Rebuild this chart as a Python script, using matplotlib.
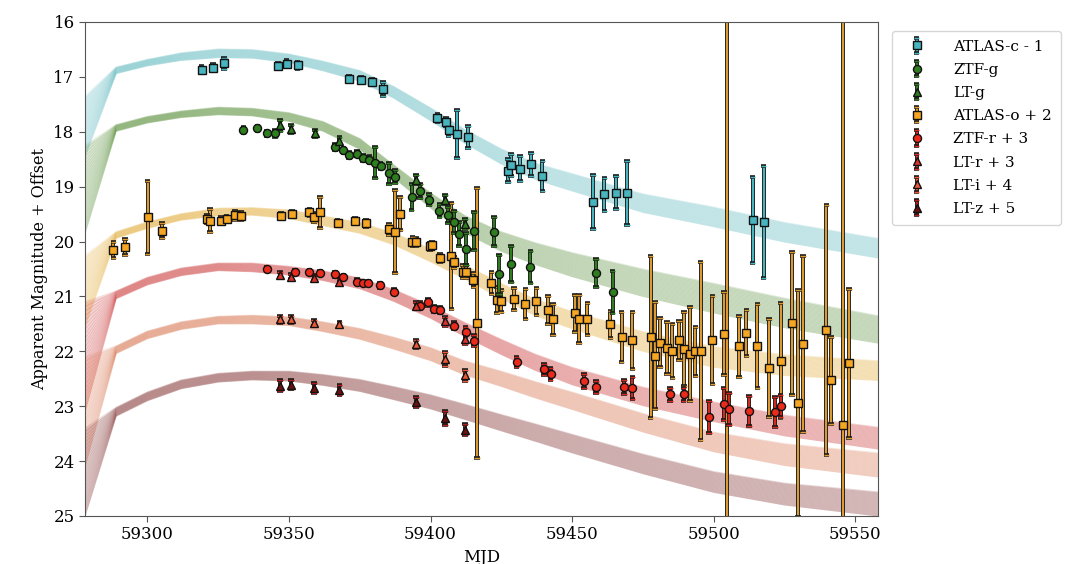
import numpy as np
import matplotlib
matplotlib.use("Agg")
import matplotlib.pyplot as plt
import matplotlib.patheffects as pe

plt.rcParams["font.family"] = ["DejaVu Serif"]

# ---------------- model bands (plotted values: magnitude + offset) ----------------
model_mjd = [59278, 59289, 59300, 59312, 59325, 59337, 59350, 59362, 59375, 59387,
             59400, 59412, 59425, 59437, 59450, 59475, 59500, 59525, 59558]

cyan_mid = [17.90, 16.88, 16.74, 16.63, 16.57, 16.58, 16.66, 16.80, 16.98, 17.28,
            17.68, 18.08, 18.45, 18.72, 18.92, 19.30, 19.55, 19.83, 20.12]
cyan_hw = [0.55, 0.06, 0.06, 0.07, 0.08, 0.08, 0.08, 0.09, 0.10, 0.11,
           0.12, 0.13, 0.14, 0.15, 0.16, 0.17, 0.18, 0.18, 0.18]

green_mid = [19.05, 17.93, 17.78, 17.68, 17.62, 17.64, 17.73, 17.90, 18.22, 18.72,
             19.25, 19.68, 20.00, 20.22, 20.42, 20.75, 21.03, 21.30, 21.60]
green_hw = [0.80, 0.06, 0.06, 0.06, 0.07, 0.07, 0.08, 0.09, 0.10, 0.12,
            0.14, 0.16, 0.18, 0.20, 0.22, 0.25, 0.27, 0.27, 0.25]

orange_mid = [20.90, 19.88, 19.70, 19.55, 19.46, 19.45, 19.50, 19.62, 19.75, 19.95,
              20.25, 20.55, 20.90, 21.20, 21.43, 21.82, 22.10, 22.25, 22.35]
orange_hw = [0.65, 0.06, 0.06, 0.06, 0.07, 0.07, 0.08, 0.09, 0.10, 0.11,
             0.12, 0.13, 0.14, 0.15, 0.16, 0.18, 0.19, 0.19, 0.18]

red_mid = [22.10, 20.97, 20.72, 20.55, 20.46, 20.47, 20.53, 20.62, 20.76, 20.98,
           21.28, 21.60, 21.92, 22.20, 22.45, 22.82, 23.10, 23.35, 23.58]
red_hw = [1.00, 0.07, 0.07, 0.07, 0.07, 0.08, 0.08, 0.09, 0.10, 0.11,
          0.12, 0.13, 0.14, 0.15, 0.16, 0.17, 0.18, 0.19, 0.20]

ltI_mid = [23.10, 21.97, 21.70, 21.53, 21.43, 21.42, 21.45, 21.55, 21.68, 21.85,
           22.05, 22.30, 22.50, 22.70, 22.90, 23.30, 23.65, 23.88, 24.07]
ltI_hw = [1.00, 0.07, 0.07, 0.07, 0.07, 0.08, 0.08, 0.09, 0.10, 0.11,
          0.12, 0.13, 0.14, 0.15, 0.16, 0.17, 0.18, 0.20, 0.22]

ltZ_mid = [24.20, 23.10, 22.82, 22.60, 22.48, 22.44, 22.45, 22.52, 22.62, 22.76,
           22.92, 23.10, 23.30, 23.48, 23.68, 24.05, 24.38, 24.60, 24.78]
ltZ_hw = [0.80, 0.08, 0.08, 0.08, 0.08, 0.08, 0.09, 0.10, 0.11, 0.12,
          0.13, 0.14, 0.15, 0.16, 0.17, 0.18, 0.19, 0.20, 0.22]

# ---------------- photometry (plotted values: magnitude + offset) ----------------
atlas_c_mjd = [59319.2, 59323.1, 59327.1, 59346.2, 59349.2, 59353.1, 59371.3, 59375.4,
               59379.3, 59383.3, 59402.4, 59405.4, 59406.4, 59409.4, 59413.3, 59427.4,
               59428.4, 59431.5, 59435.4, 59439.5, 59457.4, 59461.4, 59465.4, 59469.4,
               59513.7, 59517.6]
atlas_c_mag = [16.87, 16.83, 16.75, 16.80, 16.76, 16.79, 17.03, 17.06,
               17.09, 17.22, 17.75, 17.82, 17.97, 18.04, 18.10, 18.71,
               18.60, 18.67, 18.59, 18.80, 19.28, 19.14, 19.11, 19.12,
               19.61, 19.64]
atlas_c_err = [0.06, 0.06, 0.10, 0.06, 0.06, 0.07, 0.05, 0.05,
               0.06, 0.12, 0.08, 0.08, 0.10, 0.44, 0.20, 0.21,
               0.20, 0.23, 0.21, 0.27, 0.50, 0.30, 0.30, 0.58,
               0.78, 1.02]

ztf_g_mjd = [59333.9, 59338.9, 59342.1, 59345.1, 59366.2, 59369.2, 59371.3, 59374.1,
             59376.2, 59378.4, 59380.4, 59382.4, 59385.4, 59387.4, 59393.3, 59396.3,
             59399.4, 59403.1, 59406.2, 59408.3, 59410.1, 59412.5, 59415.3, 59422.4,
             59424.2, 59428.4, 59435.3, 59458.4, 59464.3]
ztf_g_mag = [17.97, 17.94, 18.03, 18.03, 18.28, 18.34, 18.42, 18.40,
             18.48, 18.51, 18.56, 18.62, 18.76, 18.82, 19.19, 19.08,
             19.24, 19.44, 19.52, 19.64, 19.86, 20.13, 19.81, 19.82,
             20.60, 20.41, 20.46, 20.57, 20.92]
ztf_g_err = [0.05, 0.05, 0.05, 0.06, 0.05, 0.05, 0.05, 0.05,
             0.05, 0.06, 0.29, 0.06, 0.19, 0.12, 0.23, 0.12,
             0.10, 0.12, 0.15, 0.20, 0.22, 0.29, 0.35, 0.27,
             0.35, 0.32, 0.29, 0.26, 0.38]

lt_g_mjd = [59346.8, 59350.7, 59359.2, 59367.8, 59394.8, 59405.1, 59412.1]
lt_g_mag = [17.88, 17.95, 18.03, 18.16, 18.87, 19.24, 19.68]
lt_g_err = [0.10, 0.07, 0.07, 0.07, 0.08, 0.08, 0.10]

atlas_o_mjd = [59288.0, 59292.1, 59300.1, 59305.1, 59321.0, 59322.1, 59326.0, 59328.0,
               59330.9, 59333.0, 59347.2, 59351.1, 59357.2, 59358.9, 59360.9, 59367.2,
               59373.3, 59377.2, 59385.3, 59387.4, 59389.2, 59393.6, 59394.8, 59399.8,
               59400.6, 59403.3, 59407.4, 59408.3, 59411.5, 59412.5, 59415.1, 59416.5,
               59421.5, 59423.5, 59424.8, 59429.5, 59433.5, 59437.4, 59441.5, 59443.3,
               59450.9, 59452.5, 59455.4, 59463.5, 59467.5, 59471.3, 59477.7, 59479.2,
               59481.0, 59483.5, 59485.4, 59487.7, 59489.5, 59491.6, 59493.5, 59495.4,
               59499.5, 59503.6, 59504.8, 59508.9, 59511.5, 59515.4, 59519.5, 59523.6,
               59527.7, 59529.8, 59531.6, 59539.8, 59541.5, 59545.6, 59547.7]
atlas_o_mag = [20.15, 20.10, 19.56, 19.80, 19.59, 19.62, 19.62, 19.59,
               19.52, 19.53, 19.53, 19.50, 19.47, 19.56, 19.47, 19.66,
               19.62, 19.67, 19.78, 19.82, 19.49, 20.00, 20.01, 20.09,
               20.07, 20.30, 20.26, 20.38, 20.55, 20.55, 20.70, 21.49,
               20.75, 21.06, 21.08, 21.05, 21.14, 21.09, 21.25, 21.42,
               21.31, 21.41, 21.41, 21.51, 21.74, 21.80, 21.74, 22.08,
               21.84, 21.94, 22.00, 21.80, 21.96, 22.05, 22.00, 22.00,
               21.80, 21.68, 26.50, 21.91, 21.66, 21.90, 22.31, 22.17,
               21.49, 22.95, 21.87, 21.61, 22.53, 23.35, 22.22]
atlas_o_err = [0.15, 0.15, 0.67, 0.13, 0.08, 0.21, 0.06, 0.06,
               0.08, 0.07, 0.05, 0.06, 0.06, 0.08, 0.29, 0.05,
               0.05, 0.06, 0.10, 0.76, 0.30, 0.08, 0.08, 0.06,
               0.06, 0.08, 0.96, 0.10, 0.12, 0.12, 0.12, 2.46,
               0.20, 0.24, 0.20, 0.20, 0.27, 0.25, 0.25, 0.28,
               0.33, 0.44, 0.29, 0.24, 0.46, 0.52, 1.47, 0.97,
               0.44, 0.48, 0.49, 0.36, 0.67, 0.86, 0.45, 1.62,
               0.80, 0.76, 11.0, 0.55, 0.42, 0.77, 0.89, 1.05,
               1.30, 2.07, 1.60, 2.27, 0.80, 7.50, 1.35]

ztf_r_mjd = [59342.1, 59352.1, 59357.2, 59360.9, 59366.2, 59369.2, 59374.1, 59376.0,
             59378.1, 59382.1, 59387.2, 59396.3, 59399.2, 59401.2, 59403.3, 59408.3,
             59412.4, 59415.4, 59430.4, 59440.1, 59442.4, 59454.2, 59458.4, 59468.4,
             59471.3, 59484.5, 59489.4, 59498.4, 59503.5, 59505.4, 59512.4, 59521.6,
             59523.6]
ztf_r_mag = [20.50, 20.55, 20.55, 20.57, 20.60, 20.65, 20.73, 20.75,
             20.76, 20.80, 20.91, 21.17, 21.11, 21.23, 21.25, 21.53,
             21.64, 21.81, 22.20, 22.33, 22.42, 22.54, 22.65, 22.65,
             22.67, 22.78, 22.78, 23.19, 22.96, 23.05, 23.09, 23.11,
             22.99]
ztf_r_err = [0.04, 0.04, 0.04, 0.04, 0.04, 0.04, 0.04, 0.04,
             0.04, 0.05, 0.05, 0.06, 0.06, 0.06, 0.06, 0.07,
             0.08, 0.10, 0.09, 0.10, 0.11, 0.12, 0.11, 0.13,
             0.20, 0.12, 0.12, 0.29, 0.30, 0.30, 0.27, 0.27,
             0.20]

lt_mjd = [59346.8, 59350.7, 59358.9, 59367.8, 59394.8, 59405.1, 59412.1]
lt_r_mag = [20.61, 20.64, 20.66, 20.73, 21.17, 21.45, 21.77]
lt_r_err = [0.05, 0.05, 0.05, 0.05, 0.06, 0.08, 0.10]
lt_i_mag = [21.42, 21.42, 21.48, 21.51, 21.87, 22.14, 22.44]
lt_i_err = [0.06, 0.06, 0.05, 0.05, 0.07, 0.12, 0.10]
lt_z_mag = [22.63, 22.61, 22.67, 22.70, 22.92, 23.22, 23.43]
lt_z_err = [0.10, 0.08, 0.09, 0.09, 0.09, 0.13, 0.10]

# ---------------- figure ----------------
fig = plt.figure(figsize=(10.8, 5.64), dpi=100)
ax = fig.add_axes([85 / 1080, 1 - 516 / 564, (878 - 85) / 1080, (516 - 22) / 564])

bands = [
    (cyan_mid, cyan_hw, "#6cc0c6"),
    (green_mid, green_hw, "#5f9440"),
    (orange_mid, orange_hw, "#e8b448"),
    (red_mid, red_hw, "#d04242"),
    (ltI_mid, ltI_hw, "#dc7c58"),
    (ltZ_mid, ltZ_hw, "#8a3c3c"),
]
for mid, hw, col in bands:
    mid = np.asarray(mid)
    hw = np.asarray(hw)
    ax.fill_between(model_mjd, mid - hw, mid + hw, color=col, alpha=0.22, lw=0, zorder=1)
    for f in np.linspace(-1, 1, 25):
        ax.plot(model_mjd, mid + f * hw, color=col, lw=0.7, alpha=0.2, zorder=1)

stroke = [pe.Stroke(linewidth=2.8, foreground="#1a1a1a"), pe.Normal()]


def eplot(x, y, e, marker, face, ecol, label, z=3, ms=5.8):
    eb = ax.errorbar(x, y, yerr=e, fmt=marker, ms=ms, mfc=face, mec="#111111",
                     mew=1.0, ecolor=ecol, elinewidth=1.5, capsize=2.0,
                     capthick=1.4, label=label, zorder=z)
    for lc in eb[2]:
        lc.set_path_effects(stroke)
    for cap in eb[1]:
        cap.set_path_effects([pe.Stroke(linewidth=2.6, foreground="#1a1a1a"), pe.Normal()])
    return eb


eplot(atlas_c_mjd, atlas_c_mag, atlas_c_err, "s", "#48b4be", "#48b4be", "ATLAS-c - 1", ms=5.5)
eplot(ztf_g_mjd, ztf_g_mag, ztf_g_err, "o", "#2e7d1e", "#2e7d1e", "ZTF-g")
eplot(lt_g_mjd, lt_g_mag, lt_g_err, "^", "#2e7d1e", "#2e7d1e", "LT-g")
eplot(atlas_o_mjd, atlas_o_mag, atlas_o_err, "s", "#f5a623", "#de9a32", "ATLAS-o + 2", z=2.5, ms=5.5)
eplot(ztf_r_mjd, ztf_r_mag, ztf_r_err, "o", "#ec2a1c", "#d42a1e", "ZTF-r + 3")
eplot(lt_mjd, lt_r_mag, lt_r_err, "^", "#d8322a", "#d8322a", "LT-r + 3")
eplot(lt_mjd, lt_i_mag, lt_i_err, "^", "#ea5a38", "#ea5a38", "LT-i + 4")
eplot(lt_mjd, lt_z_mag, lt_z_err, "^", "#6e1010", "#b02020", "LT-z + 5")

ax.set_xlim(59278, 59558)
ax.set_ylim(25, 16)
ax.set_yticks(np.arange(16, 26, 1))
ax.set_xticks([59300, 59350, 59400, 59450, 59500, 59550])
ax.tick_params(labelsize=12, color="#555555", length=4)
for sp in ax.spines.values():
    sp.set_color("#555555")
ax.set_xlabel("MJD", fontsize=12)
ax.set_ylabel("Apparent Magnitude + Offset", fontsize=11.5)

leg = ax.legend(loc="upper left", bbox_to_anchor=(1.012, 0.992), fontsize=11,
                borderaxespad=0.3, handletextpad=1.4, labelspacing=0.6,
                borderpad=0.6, handlelength=2.0)
leg.get_frame().set_edgecolor("#cccccc")

fig.savefig("out.png", dpi=100)
